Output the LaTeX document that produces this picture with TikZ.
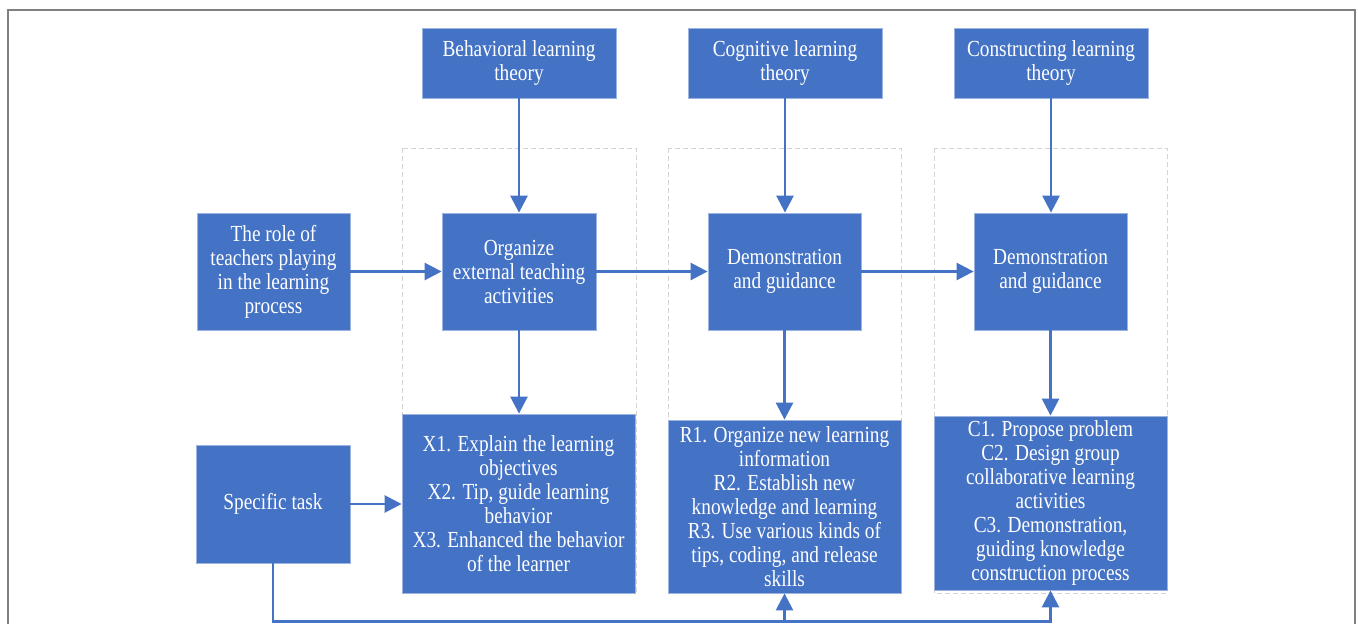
\documentclass[tikz,border=0pt]{standalone}
\usepackage{fontspec}
\setmainfont{Liberation Serif}[FakeStretch=0.84]
\usetikzlibrary{arrows.meta,calc}
\definecolor{boxblue}{HTML}{4472C4}
\definecolor{boxedge}{HTML}{9DB3E0}
\definecolor{framegray}{HTML}{808080}
\definecolor{dashgray}{HTML}{D3D3D3}
\begin{document}
\begin{tikzpicture}[x=1pt,y=-1pt,
  box/.style={draw=boxedge, line width=0.8pt, fill=boxblue, text=white,
    align=center, inner sep=0pt, font=\fontsize{23}{24}\selectfont},
  group/.style={draw=dashgray, dashed, dash pattern=on 5pt off 3pt, line width=0.8pt},
  arr/.style={draw=boxblue, line width=2.6pt, -{Triangle[length=17pt,width=17pt]}},
  link/.style={draw=boxblue, line width=2.6pt}]
\useasboundingbox (0,0) rectangle (1358,624);

% outer frame, open at the bottom
\draw[framegray, line width=2pt] (8,640) -- (8,10) -- (1355,10) -- (1355,640);

% dashed groups, one per theory column
\draw[group] (402,148) rectangle (636,593);
\draw[group] (668,148) rectangle (901,593);
\draw[group] (934,148) rectangle (1167,593);

% theories
\node[box, minimum width=194, minimum height=70] (beh) at (519,63) {Behavioral learning\\theory};
\node[box, minimum width=194, minimum height=70] (cog) at (785,63) {Cognitive learning\\theory};
\node[box, minimum width=194, minimum height=70] (con) at (1051,63) {Constructing learning\\theory};

% teacher role row
\node[box, minimum width=153, minimum height=117] (role) at (273.5,271.5) {The role of\\teachers playing\\in the learning\\process};
\node[box, minimum width=154, minimum height=117] (org) at (519,271.5) {Organize\\external teaching\\activities};
\node[box, minimum width=153, minimum height=117] (dem1) at (784.5,271.5) {Demonstration\\and guidance};
\node[box, minimum width=153, minimum height=117] (dem2) at (1050.5,271.5) {Demonstration\\and guidance};

% task row
\node[box, minimum width=154, minimum height=118] (task) at (273,504) {Specific task};
\node[box, minimum width=233, minimum height=179] (xbox) at (518.5,503.5)
  {X1. Explain the learning\\objectives\\X2. Tip, guide learning\\behavior\\X3. Enhanced the behavior\\of the learner};
\node[box, minimum width=233, minimum height=173] (rbox) at (784.5,506.5)
  {R1. Organize new learning\\information\\R2. Establish new\\knowledge and learning\\R3. Use various kinds of\\tips, coding, and release\\skills};
\node[box, minimum width=233, minimum height=174] (cbox) at (1050.5,503)
  {C1. Propose problem\\C2. Design group\\collaborative learning\\activities\\C3. Demonstration,\\guiding knowledge\\construction process};

% theory to role
\draw[arr] (beh.south) -- (org.north);
\draw[arr] (cog.south) -- (dem1.north -| cog.south);
\draw[arr] (con.south) -- (dem2.north -| con.south);

% role flow
\draw[arr] (role.east) -- (org.west);
\draw[arr] (org.east) -- (dem1.west);
\draw[arr] (dem1.east) -- (dem2.west);

% role to activities
\draw[arr] (org.south) -- (xbox.north -| org.south);
\draw[arr] (dem1.south) -- (rbox.north -| dem1.south);
\draw[arr] (dem2.south) -- (cbox.north -| dem2.south);

% task links
\draw[arr] (task.east) -- (xbox.west |- task.east);
\coordinate (bus) at ($(cbox.south)+(0,31)$);
\draw[arr] (task.south) |- (bus) -- (cbox.south);
\draw[arr] (rbox.south |- bus) -- (rbox.south);
\end{tikzpicture}
\end{document}
